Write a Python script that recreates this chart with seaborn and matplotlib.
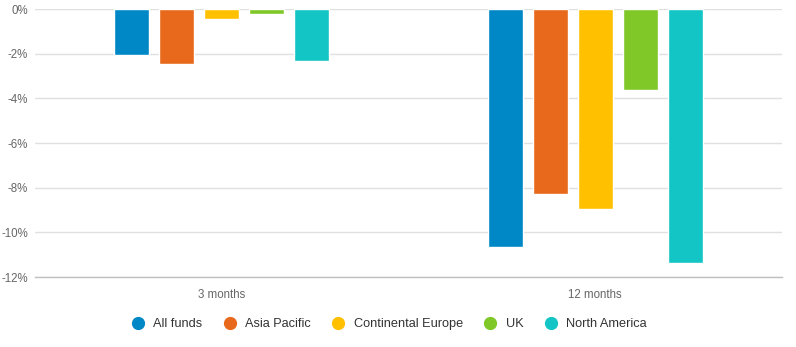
import matplotlib
matplotlib.use("Agg")
import matplotlib.pyplot as plt
from matplotlib.lines import Line2D
import seaborn as sns
import pandas as pd

periods = ["3 months", "12 months"]
series = ["All funds", "Asia Pacific", "Continental Europe", "UK", "North America"]
values_3m = [-2.06, -2.45, -0.45, -0.22, -2.33]
values_12m = [-10.66, -8.27, -8.96, -3.61, -11.37]
colors = ["#0088C6", "#E8691C", "#FFC000", "#80C828", "#13C5C5"]
yticks = [0, -2, -4, -6, -8, -10, -12]

rows = []
for s, v in zip(series, values_3m):
    rows.append({"period": periods[0], "series": s, "value": v})
for s, v in zip(series, values_12m):
    rows.append({"period": periods[1], "series": s, "value": v})
df = pd.DataFrame(rows)

sns.set_theme(style="white")
plt.rcParams["font.family"] = ["Liberation Sans", "DejaVu Sans"]

fig = plt.figure(figsize=(7.96, 3.47), dpi=100)
ax = fig.add_axes([35/796, 1-277/347, (782-35)/796, (277-9)/347])

sns.barplot(data=df, x="period", y="value", hue="series", order=periods,
            hue_order=series, palette=colors, width=0.602, gap=0.222,
            saturation=1, ax=ax, legend=False, errorbar=None)

ax.set_ylim(-12, 0)
ax.set_xlim(-0.5, 1.5)
ax.set_yticks(yticks)
ax.set_yticklabels([f"{t}%" for t in yticks])
ax.yaxis.grid(True, color="#e0e0e0", linewidth=1)
ax.set_axisbelow(True)
for sp in ["top", "left", "right"]:
    ax.spines[sp].set_visible(False)
ax.spines["bottom"].set_color("#c0c0c0")
ax.spines["bottom"].set_linewidth(1)
ax.tick_params(axis="both", length=0, labelsize=8.3, colors="#666666")
ax.tick_params(axis="y", pad=5)
ax.tick_params(axis="x", pad=9)
ax.set_xlabel("")
ax.set_ylabel("")

handles = [Line2D([0], [0], marker="o", linestyle="", markersize=8.5,
                  markerfacecolor=c, markeredgecolor=c) for c in colors]
fig.legend(handles, series, loc="center", bbox_to_anchor=(0.485, 1-324/347),
           ncol=5, frameon=False, fontsize=9.2, handletextpad=0.2,
           columnspacing=1.15, labelcolor="#333333")

fig.savefig("out.png", dpi=100)
